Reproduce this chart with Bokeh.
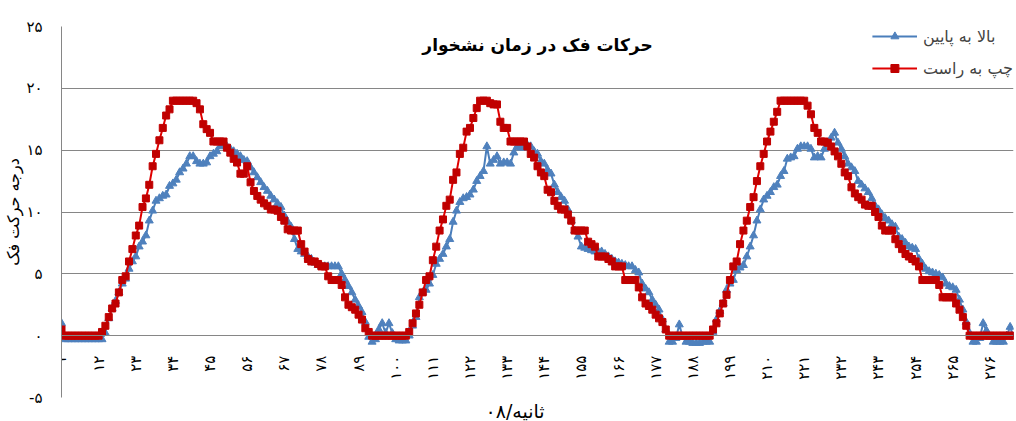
import math
from bokeh.plotting import figure
from bokeh.models import Range1d, FixedTicker, Label, Legend, LegendItem, Title
from bokeh.embed import file_html
from bokeh.resources import INLINE

FONT = "DejaVu Sans"

title_text = "حرکات فک در زمان نشخوار"
y_title = "درجه حرکت فک"
x_title = "۰۸/ثانیه"
name_blue = "بالا به پایین"
name_red = "چپ به راست"

x_ticks = [1, 12, 23, 34, 45, 56, 67, 78, 89, 100, 111, 122, 133, 144, 155,
           166, 177, 188, 199, 210, 221, 232, 243, 254, 265, 276]
x_labels = ["۱", "۱۲", "۲۳", "۳۴", "۴۵", "۵۶", "۶۷", "۷۸", "۸۹", "۱۰۰", "۱۱۱",
            "۱۲۲", "۱۳۳", "۱۴۴", "۱۵۵", "۱۶۶", "۱۷۷", "۱۸۸", "۱۹۹", "۲۱۰",
            "۲۲۱", "۲۳۲", "۲۴۳", "۲۵۴", "۲۶۵", "۲۷۶"]
y_ticks = [-5, 0, 5, 10, 15, 20, 25]
y_labels = ["-۵", "۰", "۵", "۱۰", "۱۵", "۲۰", "۲۵"]

red = [
    0.5,
    0, 0, 0, 0, 0, 0, 0, 0, 0, 0, 0,
    0.3, 0.8, 1.5, 2.2, 2.6, 3.5, 4.5, 4.8, 6.0, 7.0,
    8.1, 8.9, 10.4, 11.1, 12.2, 13.7, 14.7, 15.8, 16.8, 17.8,
    18.3, 19.0, 19.0, 19.0, 19.0, 19.0, 19.0, 19.0, 18.8, 18.3,
    17.1, 16.7, 16.4, 15.7, 15.7, 15.7, 15.7, 15.2, 14.8, 14.3,
    14.0, 13.1, 13.1, 13.7, 12.4, 11.7, 11.3, 11.0, 10.7, 10.5,
    10.2, 10.2, 10.1, 9.6, 9.3, 8.6, 8.5, 8.5, 8.5, 7.4,
    6.8, 6.2, 6.0, 6.0, 5.8, 5.6, 5.6, 4.8, 4.5, 4.5,
    4.5, 4.1, 3.1, 2.5, 2.3, 2.1, 1.7, 1.3, 0.6, 0.3,
    0, 0, 0, 0, 0, 0, 0, 0, 0, 0, 0,
    0.3, 1.0, 1.8, 2.5, 3.5, 4.5, 4.8, 6.1, 7.2, 8.5,
    9.4, 10.5, 11.0, 12.6, 13.2, 14.7, 15.2, 16.5, 16.8, 17.6,
    18.4, 19.0, 19.0, 19.0, 18.8, 18.7, 18.7, 17.3, 16.8, 16.8,
    15.7, 15.7, 15.7, 15.7, 15.7, 15.3, 14.7, 14.4, 13.7, 13.2,
    12.9, 11.8, 11.6, 10.9, 10.5, 10.2, 10.2, 9.8, 9.3, 8.5,
    8.5, 8.5, 8.5, 7.6, 7.4, 7.2, 6.4, 6.4, 6.4, 6.2,
    6.0, 5.6, 5.6, 5.6, 4.5, 4.5, 4.5, 4.5, 3.9, 3.1,
    2.6, 2.4, 2.1, 1.7, 1.4, 1.1, 0.5,
    0, 0, 0, 0, 0, 0, 0, 0, 0, 0, 0, 0, 0,
    0.5, 1.0, 1.8, 2.6, 3.3, 4.5, 5.6, 6.0, 7.4, 8.5,
    9.3, 10.4, 11.2, 12.5, 13.7, 14.7, 15.7, 16.5, 17.3, 18.1,
    19.0, 19.0, 19.0, 19.0, 19.0, 19.0, 19.0, 19.0, 18.6, 17.9,
    16.8, 16.4, 15.7, 15.7, 15.6, 15.3, 14.9, 14.5, 13.9, 13.2,
    12.9, 12.0, 11.5, 11.2, 11.0, 10.6, 10.5, 10.5, 10.0, 9.6,
    8.9, 8.5, 8.5, 8.5, 7.8, 7.4, 7.0, 6.6, 6.4, 6.2,
    6.0, 5.6, 4.5, 4.5, 4.5, 4.5, 4.5, 4.1, 3.1, 3.1,
    3.1, 3.1, 2.6, 2.1, 1.5, 0.8,
    0, 0, 0, 0, 0, 0, 0, 0, 0, 0, 0, 0, 0, 0,
]

blue = [
    1.0,
    -0.3, -0.3, -0.3, -0.3, -0.3, -0.3, -0.3, -0.3, -0.3, -0.3, -0.3, -0.3,
    0.2, 1.4, 2.2, 2.8, 3.5, 4.2, 4.6, 5.4, 6.0, 6.4,
    7.2, 7.6, 8.1, 9.3, 10.1, 10.9, 11.1, 11.3, 11.4, 12.1,
    12.3, 12.6, 13.2, 13.5, 13.9, 14.5, 14.5, 14.1, 13.9, 13.9,
    14.0, 14.5, 14.7, 14.9, 15.3, 15.4, 15.3, 15.1, 14.9, 14.7,
    14.5, 14.2, 14.1, 13.6, 13.2, 12.8, 12.4, 12.0, 11.7, 11.3,
    11.0, 10.7, 10.4, 9.7, 9.2, 8.8, 7.8, 7.0, 6.8, 6.6,
    6.4, 6.2, 5.9, 5.7, 5.6, 5.6, 5.6, 5.6, 5.6, 5.6,
    5.0, 4.5, 4.0, 3.5, 2.9, 2.4, 1.9, 1.1, -0.1, -0.5,
    -0.3, 0.5, 1.0, 0.2, 1.0, 0.2, -0.3, -0.4, -0.4, -0.4,
    0.0, 0.8, 1.5, 3.1, 3.5, 3.7, 4.2, 4.9, 5.8, 6.2,
    6.6, 7.2, 7.8, 9.2, 10.1, 10.8, 11.1, 11.2, 11.4, 11.8,
    12.5, 12.9, 13.3, 15.3, 13.9, 14.2, 14.5, 13.9, 14.0, 14.0,
    13.9, 14.8, 15.3, 15.2, 15.2, 15.4, 15.3, 14.9, 14.7, 14.1,
    13.9, 13.4, 13.1, 12.2, 11.6, 11.2, 10.9, 10.2, 9.3, 8.5,
    8.0, 7.2, 7.1, 7.0, 6.9, 6.8, 6.8, 6.8, 6.6, 6.4,
    6.2, 6.0, 5.9, 5.8, 5.7, 5.6, 5.6, 5.3, 5.1, 4.2,
    3.8, 3.5, 2.9, 2.5, 2.1, 1.3, 0.5, -0.5, -0.5, -0.2,
    0.9, -0.1, -0.5, -0.5, -0.6, -0.6, -0.6, -0.5, -0.5, -0.5,
    0.3, 1.3, 2.0, 2.6, 3.7, 4.2, 4.5, 5.3, 5.5, 5.7,
    6.4, 7.2, 8.1, 9.3, 10.2, 11.0, 11.3, 11.6, 12.0, 12.2,
    12.9, 13.3, 14.3, 14.4, 14.5, 15.1, 15.3, 15.3, 15.3, 15.1,
    14.4, 14.5, 14.4, 15.1, 15.6, 16.0, 16.4, 15.6, 15.1, 14.5,
    13.9, 13.6, 13.3, 12.5, 12.2, 11.9, 11.6, 11.1, 10.5, 10.2,
    9.8, 9.5, 9.3, 9.0, 8.8, 8.0, 7.8, 7.5, 7.2, 7.1,
    7.0, 6.2, 5.8, 5.4, 5.2, 5.1, 5.0, 4.9, 4.7, 4.2,
    4.0, 3.9, 3.7, 2.9, 2.1, 1.1, 0.2, -0.5, -0.5, -0.2,
    1.0, 0.4, -0.1, -0.5, -0.5, -0.5, -0.5, 0.0, 0.7, -0.1,
]

x_red = list(range(1, len(red) + 1))
x_blue = list(range(1, len(blue) + 1))
n_max = max(len(red), len(blue))

GRAY = "#868686"
BLUE = "#4A7EBB"
BLUE_M = "#4F81BD"
RED = "#E00000"
RED_M = "#C00000"

p = figure(width=1016, height=421, output_backend="svg", toolbar_location=None,
           x_range=Range1d(1, n_max), y_range=Range1d(-5, 25),
           min_border_left=61, min_border_right=3, min_border_top=26,
           min_border_bottom=22)
p.outline_line_color = None
p.background_fill_color = "white"

p.xgrid.visible = False
p.ygrid.ticker = FixedTicker(ticks=[5, 10, 15, 20])
p.ygrid.grid_line_color = GRAY
p.ygrid.grid_line_width = 1

# y axis
p.yaxis.ticker = FixedTicker(ticks=y_ticks)
p.yaxis.major_label_overrides = dict(zip(y_ticks, y_labels))
p.yaxis.major_tick_line_color = None
p.yaxis.minor_tick_line_color = None
p.yaxis.axis_line_color = GRAY
p.yaxis.major_label_text_font = FONT
p.yaxis.major_label_text_font_size = "15px"
p.yaxis.major_label_text_color = "#000000"
p.yaxis.major_label_standoff = 13
p.yaxis.axis_label = y_title
p.yaxis.axis_label_text_font = FONT
p.yaxis.axis_label_text_font_size = "16px"
p.yaxis.axis_label_text_font_style = "normal"
p.yaxis.axis_label_text_color = "#000000"
p.yaxis.axis_label_standoff = 0

# x axis at y = 0
p.xaxis.fixed_location = 0
p.xaxis.ticker = FixedTicker(ticks=x_ticks)
p.xaxis.major_label_overrides = dict(zip(x_ticks, x_labels))
p.xaxis.major_label_orientation = math.pi / 2
p.xaxis.major_tick_line_color = None
p.xaxis.minor_tick_line_color = None
p.xaxis.axis_line_color = GRAY
p.xaxis.major_label_text_font = FONT
p.xaxis.major_label_text_font_size = "15px"
p.xaxis.major_label_text_color = "#000000"
p.xaxis.major_label_standoff = 14

p.add_layout(Title(text=x_title, align="left", text_font=FONT,
                   text_font_size="19px", text_font_style="normal",
                   text_color="#000000", standoff=0, offset=424), "below")

lb = p.line(x_blue, blue, line_color=BLUE, line_width=2)
sb = p.scatter(x_blue, blue, marker="triangle", size=8, fill_color=BLUE_M,
               line_color=BLUE_M)
lr = p.line(x_red, red, line_color=RED, line_width=2)
sr = p.scatter(x_red, red, marker="square", size=7, fill_color=RED_M,
               line_color=RED_M)

legend = Legend(items=[LegendItem(label=name_blue, renderers=[lb, sb]),
                       LegendItem(label=name_red, renderers=[lr, sr])],
                location="top_right", label_text_font=FONT,
                label_text_font_size="16px", glyph_width=45, glyph_height=20,
                label_height=20, spacing=12, padding=2, margin=0,
                border_line_color=None, background_fill_alpha=0,
                label_standoff=6)
p.add_layout(legend)

p.add_layout(Label(x=142, y=23.5, text=title_text, text_font=FONT,
                   text_font_size="17px", text_font_style="bold",
                   text_align="center", text_baseline="middle",
                   text_color="#000000"))

open("out.html", "w").write(file_html(p, INLINE))
